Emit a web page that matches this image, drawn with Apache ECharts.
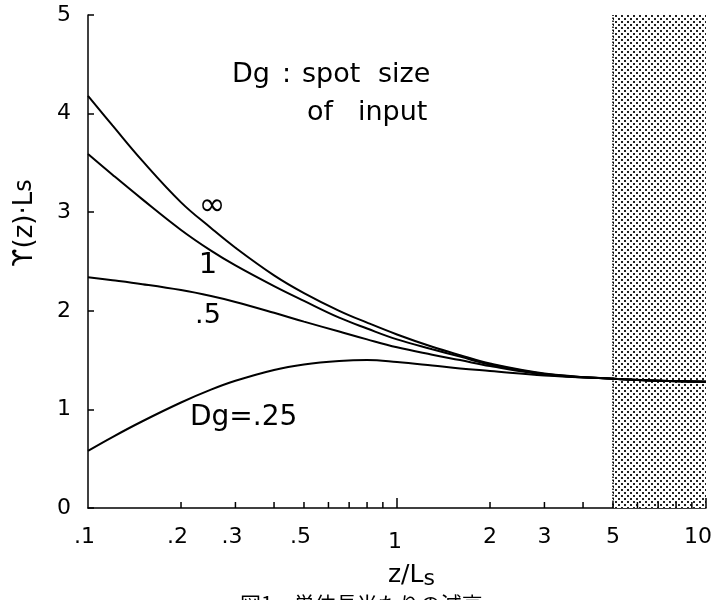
<!DOCTYPE html>
<html>
<head>
<meta charset="utf-8">
<script src="https://cdn.jsdelivr.net/npm/echarts@6/dist/echarts.min.js"></script>
<style>
html,body{margin:0;padding:0;background:#fff;}
#chart{width:717px;height:600px;}
</style>
</head>
<body>
<div id="chart"></div>
<script>
// ---- data ----
const zValues = [0.1, 0.12, 0.15, 0.2, 0.25, 0.3, 0.4, 0.5, 0.65, 0.8, 1, 1.3, 1.6, 2, 3, 5, 7, 10];
const gammaInf = [4.18, 3.88, 3.52, 3.10, 2.84, 2.64, 2.36, 2.18, 2.00, 1.88, 1.76, 1.635, 1.55, 1.465, 1.365, 1.31, 1.29, 1.28];
const gamma1   = [3.59, 3.38, 3.13, 2.82, 2.61, 2.46, 2.25, 2.10, 1.93, 1.82, 1.71, 1.61, 1.535, 1.455, 1.36, 1.31, 1.29, 1.28];
const gamma05  = [2.34, 2.31, 2.27, 2.21, 2.15, 2.09, 1.98, 1.89, 1.79, 1.71, 1.63, 1.555, 1.50, 1.44, 1.355, 1.31, 1.29, 1.28];
const gamma025 = [0.58, 0.72, 0.88, 1.07, 1.20, 1.29, 1.40, 1.455, 1.49, 1.50, 1.48, 1.445, 1.415, 1.39, 1.345, 1.31, 1.29, 1.28];
const curveNames = ['∞', '1', '.5', 'Dg=.25'];
const shadedRange = [5, 10];
const xMinorTicks = [0.2, 0.3, 0.4, 0.5, 0.6, 0.7, 0.8, 0.9, 2, 3, 4, 5, 6, 7, 8, 9];
const xMajorTicks = [1, 10];
const xTickValues = [0.1, 0.2, 0.3, 0.5, 1, 2, 3, 5, 10];
const xTickLabels = ['.1', '.2', '.3', '.5', '1', '2', '3', '5', '10'];

// ---- chart ----
const FONT = '"DejaVu Sans", "Liberation Sans", sans-serif';
const pat = document.createElement('canvas');
pat.width = 6; pat.height = 6;
const pc = pat.getContext('2d');
pc.fillStyle = '#fff'; pc.fillRect(0, 0, 6, 6);
pc.fillStyle = '#222';
pc.fillRect(0, 0, 2, 2);
pc.fillRect(3, 3, 2, 2);

const chart = echarts.init(document.getElementById('chart'), null, {renderer: 'canvas'});

function pairs(ys) { return zValues.map((z, i) => [z, ys[i]]); }
const lineStyle = {color: '#000', width: 2};

const curveSeries = [gammaInf, gamma1, gamma05, gamma025].map((ys, i) => ({
  type: 'line', name: curveNames[i], data: pairs(ys), smooth: 0.4,
  showSymbol: false, symbol: 'none', lineStyle: lineStyle, z: 5, silent: true
}));
curveSeries[0].markArea = {
  silent: true,
  itemStyle: {color: {image: pat, repeat: 'repeat'}},
  data: [[{xAxis: shadedRange[0], yAxis: 0}, {xAxis: shadedRange[1], yAxis: 5}]]
};
curveSeries[0].markLine = {
  silent: true, symbol: 'none', label: {show: false},
  lineStyle: {color: '#000', type: 'dotted', width: 1.5},
  data: [{xAxis: shadedRange[0]}]
};

function tickSeries(vals, len) {
  return {
    type: 'custom', coordinateSystem: 'cartesian2d', silent: true, clip: false, z: 6,
    data: vals.map(v => [v, 0]),
    renderItem: function (params, api) {
      const p = api.coord([api.value(0), 0]);
      return {type: 'line', shape: {x1: p[0], y1: p[1], x2: p[0], y2: p[1] - len},
              style: {stroke: '#000', lineWidth: 1.5}};
    }
  };
}

const labelSeries = {
  type: 'custom', coordinateSystem: 'cartesian2d', silent: true, clip: false, z: 6,
  data: xTickValues.map((v, i) => [v, 0, i]),
  renderItem: function (params, api) {
    const idx = api.value(2);
    const txt = xTickLabels[idx];
    const p = api.coord([api.value(0), 0]);
    let x = p[0], align = 'center', dy = 29;
    if (txt.charAt(0) === '.') { align = 'right'; x = p[0] + 7; }
    if (txt === '10') { x = p[0] - 8; }
    if (txt === '1') { dy = 34; x = p[0] - 2; }
    return {type: 'text', x: x, y: p[1] + dy,
      style: {text: txt, fill: '#000', font: '22px ' + FONT, textAlign: align, textVerticalAlign: 'middle'}};
  }
};

function txt(text, x, y, size, align) {
  return {type: 'text', x: x, y: y, silent: true,
    style: {text: text, fill: '#000', font: size + 'px ' + FONT, textAlign: align || 'left', textVerticalAlign: 'middle'}};
}

chart.setOption({
  animation: false,
  backgroundColor: '#fff',
  grid: {left: 88, right: 11, top: 15, bottom: 92, containLabel: false},
  xAxis: {
    type: 'log', logBase: 10, min: 0.1, max: 10,
    axisLine: {show: true, onZero: false, lineStyle: {color: '#000', width: 1.5}},
    axisTick: {show: false}, axisLabel: {show: false}, splitLine: {show: false}, minorTick: {show: false}
  },
  yAxis: {
    type: 'value', min: 0, max: 5, interval: 1,
    axisLine: {show: true, lineStyle: {color: '#000', width: 1.5}},
    axisTick: {show: true, inside: true, length: 6, lineStyle: {color: '#000', width: 1.5}},
    axisLabel: {color: '#000', fontSize: 22, fontFamily: FONT, margin: 17},
    splitLine: {show: false}
  },
  series: curveSeries.concat([tickSeries(xMinorTicks, 6), tickSeries(xMajorTicks, 10), labelSeries]),
  graphic: [
    txt('Dg', 232, 75, 27), txt(':', 282, 75, 27), txt('spot', 302, 75, 27), txt('size', 378, 75, 27),
    txt('of', 307, 113, 27), txt('input', 358, 113, 27),
    txt(curveNames[0], 212, 207, 32, 'center'),
    txt(curveNames[1], 208, 265, 29, 'center'),
    txt(curveNames[2], 208, 316, 27, 'center'),
    txt(curveNames[3], 190, 418, 28, 'left'),
    {type: 'text', x: 388, y: 590, silent: true,
      style: {text: 'z/L{s|s}', fill: '#000', font: '25px ' + FONT, textAlign: 'left', textVerticalAlign: 'bottom',
        rich: {s: {fontSize: 22, fontFamily: FONT, padding: [8, 0, 0, 0]}}}},
    {type: 'text', x: 25, y: 223, rotation: Math.PI / 2, silent: true,
      style: {text: 'ϒ(z)·L{s|s}', fill: '#000', font: '26px ' + FONT, textAlign: 'center', textVerticalAlign: 'middle',
        rich: {s: {fontSize: 24, fontFamily: FONT}}}},
    {type: 'text', x: 240, y: 594, silent: true,
      style: {text: '図1　単位長当たりの減衰', fill: '#000', font: '21px "Noto Sans CJK JP"', textAlign: 'left', textVerticalAlign: 'top'}}
  ]
});
</script>
</body>
</html>
